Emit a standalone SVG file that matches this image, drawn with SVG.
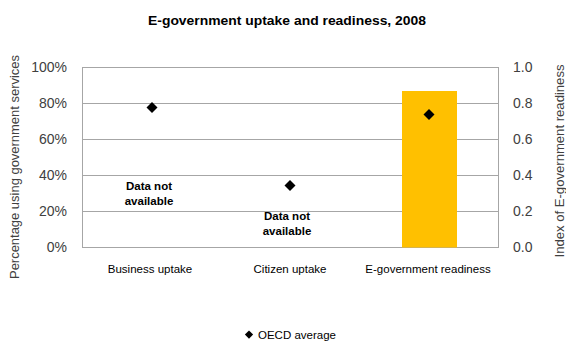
<svg xmlns="http://www.w3.org/2000/svg" width="566" height="345" viewBox="0 0 566 345">
<defs>
<style>
.title{font-family:"Liberation Sans",Arial,sans-serif;font-weight:bold;font-size:13px;fill:#000}
.tick{font-family:"Liberation Sans",Arial,sans-serif;font-size:14px;fill:#404040}
.axt{font-family:"Liberation Sans",Arial,sans-serif;font-size:12px;fill:#404040}
.cat{font-family:"Liberation Sans",Arial,sans-serif;font-size:11.5px;fill:#000}
.na{font-family:"Liberation Sans",Arial,sans-serif;font-size:11.5px;font-weight:bold;fill:#000}
.leg{font-family:"Liberation Sans",Arial,sans-serif;font-size:11.5px;fill:#000}
.grid{stroke:#a6a6a6;stroke-width:1;fill:none}
</style>
<path id="dia" d="M0,-5.5 L5.5,0 L0,5.5 L-5.5,0 Z" fill="#000"/>
</defs>
<rect width="566" height="345" fill="#fff"/>
<text class="title" x="287" y="25" text-anchor="middle" textLength="278" lengthAdjust="spacingAndGlyphs">E-government uptake and readiness, 2008</text>
<g id="plot">
<rect class="grid" x="82.5" y="67.5" width="416" height="180"/>
<line class="grid" x1="82.5" y1="103.5" x2="498.5" y2="103.5"/>
<line class="grid" x1="82.5" y1="139.5" x2="498.5" y2="139.5"/>
<line class="grid" x1="82.5" y1="175.5" x2="498.5" y2="175.5"/>
<line class="grid" x1="82.5" y1="211.5" x2="498.5" y2="211.5"/>
<rect x="402" y="91" width="55" height="156.5" fill="#ffc000"/>
</g>
<g id="left-axis" class="tick" text-anchor="end">
<text x="67" y="72">100%</text>
<text x="67" y="108">80%</text>
<text x="67" y="144">60%</text>
<text x="67" y="180">40%</text>
<text x="67" y="216">20%</text>
<text x="67" y="252">0%</text>
</g>
<g id="right-axis" class="tick">
<text x="513" y="72">1.0</text>
<text x="513" y="108">0.8</text>
<text x="513" y="144">0.6</text>
<text x="513" y="180">0.4</text>
<text x="513" y="216">0.2</text>
<text x="513" y="252">0.0</text>
</g>
<text class="axt" transform="translate(19,167) rotate(-90)" text-anchor="middle" textLength="224" lengthAdjust="spacingAndGlyphs">Percentage using government services</text>
<text class="axt" transform="translate(564,161) rotate(-90)" text-anchor="middle" textLength="193" lengthAdjust="spacingAndGlyphs">Index of E-government readiness</text>
<g id="points">
<use href="#dia" x="152" y="107.5"/>
<use href="#dia" x="290" y="185.5"/>
<use href="#dia" x="429" y="114.5"/>
</g>
<g id="na-labels" class="na" text-anchor="middle">
<text x="149" y="190">Data not</text>
<text x="149" y="205">available</text>
<text x="287" y="220">Data not</text>
<text x="287" y="235">available</text>
</g>
<g id="categories" class="cat" text-anchor="middle">
<text x="150" y="273">Business uptake</text>
<text x="290" y="273">Citizen uptake</text>
<text x="428" y="273">E-government readiness</text>
</g>
<g id="legend">
<use href="#dia" x="249" y="334.5" transform="translate(249,334.5) scale(0.75) translate(-249,-334.5)"/>
<text class="leg" x="258" y="338.5">OECD average</text>
</g>
</svg>
